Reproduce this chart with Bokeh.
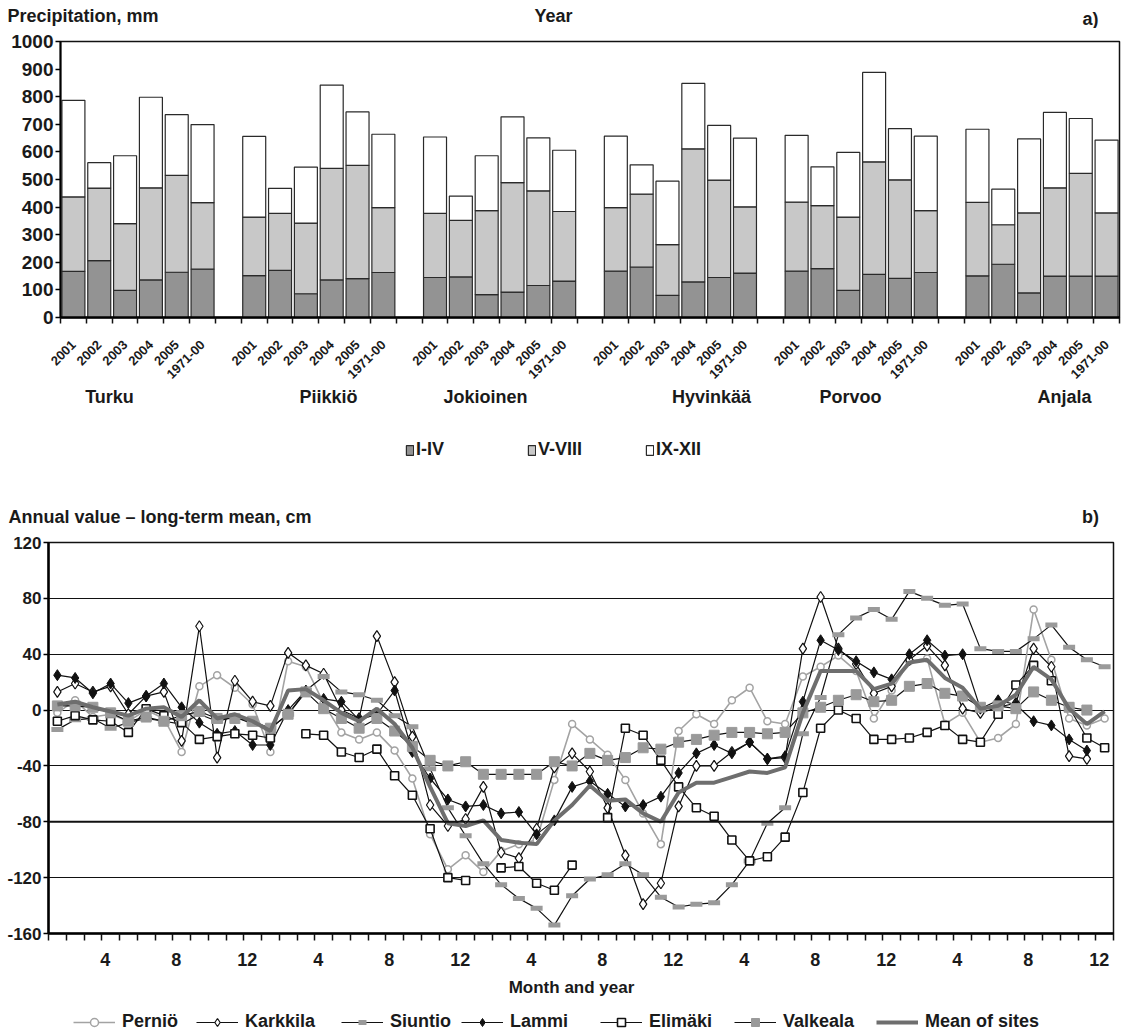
import math
from bokeh.plotting import figure
from bokeh.models import Legend, LegendItem, FixedTicker, Span, Range1d
from bokeh.layouts import column
from bokeh.embed import file_html
from bokeh.resources import INLINE
from bokeh.core.properties import value

nan = float("nan")
FONT = "Liberation Sans"
INK = "#1a1a1a"
BIG = "18px"

# ---------------- data: panel a) precipitation, mm ----------------
stations = ["Turku", "Piikkiö", "Jokioinen", "Hyvinkää", "Porvoo", "Anjala"]
periods = ["2001", "2002", "2003", "2004", "2005", "1971-00"]
# values ordered station by station, periods in the order above
precip_I_IV = [167, 206, 98, 136, 164, 175,
               152, 171, 86, 136, 141, 163,
               145, 147, 83, 92, 116, 132,
               168, 183, 80, 129, 145, 161,
               168, 177, 98, 156, 142, 163,
               151, 193, 89, 150, 150, 150]
precip_V_VIII = [270, 263, 242, 334, 351, 241,
                 212, 206, 256, 404, 410, 235,
                 232, 205, 304, 397, 343, 252,
                 230, 264, 184, 482, 353, 240,
                 250, 228, 266, 408, 357, 224,
                 266, 143, 290, 320, 372, 229]
precip_IX_XII = [350, 92, 246, 328, 220, 283,
                 292, 91, 203, 302, 194, 266,
                 277, 88, 199, 238, 192, 222,
                 259, 106, 230, 237, 198, 249,
                 242, 141, 234, 324, 185, 270,
                 265, 129, 268, 273, 199, 264]
season_labels = ["I-IV", "V-VIII", "IX-XII"]

# ---------------- data: panel b) annual value - long-term mean, cm ----------------
months = list(range(1, 61))
month_tick_labels = ["4", "8", "12"]
pernio = [-2, 7, -5, -3, -8, 0, -6, -30, 17, 25, 16, 4, -30, 35, 31,
          5, -16, -21, -16, -29, -49, -89, -114, -104, -116, -101, -96, -93, -50, -10,
          -21, -32, -50, -74, -96, -15, -3, -10, 7, 16, -8, -10, 24, 31,
          39, 28, -6, 14, 35, 37, -10, -2, -23, -20, -10, 72, 36, -6, -11, -6]
karkkila = [13, 19, 13, 17, -3, 10, 13, -22, 60, -34, 21, 6, 3, 41, 32,
            26, 0, -6, 53, 20, -19, -68, -83, -78, -55, -102, -106, -85, -41, -31,
            -44, -70, -104, -139, -124, -69, -40, -40, -30, -23, -35, -34, 44, 81,
            44, 33, 12, 17, 36, 46, 32, 1, -2, 2, 5, 44, 31, -33, -35, nan]
siuntio = [-14, -7, -6, -13, -9, -6, -8, -10, -3, -8, -5, -10, -13, -3, 14,
           24, 13, 11, 7, -4, -12, -42, -70, -90, -110, -125, -135, -142, -154, -133,
           -121, -118, -110, -118, -134, -141, -139, -138, -125, -108, -81, -70, -17, 9,
           54, 66, 72, 65, 85, 80, 75, 76, 44, 42, 42, 51, 61, 45, 36, 31]
lammi = [25, 23, 12, 19, 5, 10, 19, 2, -9, -17, -15, -25, -25, 0, 14,
         8, 6, -7, -3, 14, -30, -49, -64, -69, -68, -74, -73, -89, -79, -55,
         -51, -60, -69, -68, -62, -45, -31, -25, -31, -23, -35, -33, 6, 50,
         43, 35, 27, 22, 40, 50, 39, 40, 1, 7, 4, -8, -11, -21, -29, nan]
elimaki = [-8, -4, -7, -8, -16, 1, -4, -9, -21, -19, -17, -18, -20, nan, -17,
           -18, -30, -34, -28, -47, -61, -85, -120, -122, nan, -113, -112, -124, -129, -111,
           nan, -77, -13, -18, -36, -55, -70, -76, -93, -108, -105, -91, -59, -13,
           0, -6, -21, -21, -20, -16, -11, -21, -23, -3, 18, 32, 21, 2, -20, -27]
valkeala = [3, 3, 2, -2, -8, -5, -8, -4, -1, -6, -6, -8, -13, -3, 13,
            1, -6, -13, -6, -15, -26, -36, -40, -37, -46, -46, -46, -46, -37, -40,
            -31, -36, -34, -27, -28, -23, -21, -18, -16, -16, -17, -16, -2, 2,
            7, 11, 6, 7, 17, 19, 12, 10, 2, 3, 1, 13, 7, 2, 0, nan]
mean_sites = [4, 6, 2, -1, -4, 1, 2, -5, 7, -6, -3, -8, -15, 14, 15,
              7, -2, -8, 1, -10, -27, -55, -81, -83, -79, -93, -95, -96, -79, -68,
              -54, -65, -64, -74, -80, -59, -52, -52, -48, -44, -45, -41, -2, 28,
              28, 28, 15, 19, 34, 36, 23, 16, 1, 3, 11, 31, 22, 1, -10, -1]

W = 1122

# series styles (name -> (line kwargs, marker kwargs or None))
series = [
    ("Perniö", pernio, dict(line_color="#a3a3a3", line_width=1.6),
     dict(marker="circle", size=7, fill_color="white", line_color="#a3a3a3", line_width=1.5)),
    ("Karkkila", karkkila, dict(line_color="#111111", line_width=1.2),
     dict(marker="diamond", size=11, fill_color="white", line_color="#111111", line_width=1.2)),
    ("Siuntio", siuntio, dict(line_color="#111111", line_width=1.2),
     dict(marker="dash", size=12, line_color="#9a9a9a", line_width=5)),
    ("Lammi", lammi, dict(line_color="#111111", line_width=1.2),
     dict(marker="diamond", size=11, fill_color="#111111", line_color="#111111", line_width=1)),
    ("Elimäki", elimaki, dict(line_color="#111111", line_width=1.2),
     dict(marker="square", size=8, fill_color="white", line_color="#111111", line_width=1.6)),
    ("Valkeala", valkeala, dict(line_color="#111111", line_width=1.2),
     dict(marker="square", size=10, fill_color="#9a9a9a", line_color="#9a9a9a", line_width=1)),
    ("Mean of sites", mean_sites, dict(line_color="#6e6e6e", line_width=4), None),
]
bar_styles = [dict(fill_color="#939393"), dict(fill_color="#c8c8c8"), dict(fill_color="#ffffff")]


def bold_axis(ax, size):
    ax.major_label_text_font = FONT
    ax.major_label_text_font_style = "bold"
    ax.major_label_text_font_size = size
    ax.major_label_text_color = INK


def text_fig(h):
    f = figure(width=W, height=h, x_range=Range1d(0, W), y_range=Range1d(h, 0),
               output_backend="svg", toolbar_location=None, tools="", title=None,
               min_border=0, min_border_left=0, min_border_right=0,
               min_border_top=0, min_border_bottom=0,
               x_axis_type=None, y_axis_type=None, frame_align=False)
    f.outline_line_color = None
    return f


def put_text(f, xs, ys, texts, size, align):
    f.text(x=xs, y=ys, text=texts, text_font=value(FONT), text_font_style="bold",
           text_font_size=size, text_align=align, text_baseline="middle", text_color=INK)


def one_legend(f, label, renderers, vx, vy, gw, gh, standoff):
    lg = Legend(items=[LegendItem(label=label, renderers=renderers)], location=(vx, vy),
                orientation="horizontal", padding=0, margin=0, spacing=0,
                border_line_color=None, background_fill_alpha=0,
                glyph_width=gw, glyph_height=gh, label_standoff=standoff, label_height=gh,
                label_text_font=FONT, label_text_font_style="bold",
                label_text_font_size=BIG, label_text_color=INK)
    f.add_layout(lg, "center")


# ================= header a) =================
h1 = text_fig(28)
put_text(h1, [7], [15], ["Precipitation, mm"], BIG, "left")
put_text(h1, [553], [15], ["Year"], BIG, "center")
put_text(h1, [1090], [18], ["a)"], BIG, "center")

# ================= panel a) =================
p1 = figure(width=W, height=357, x_range=Range1d(0, 41), y_range=Range1d(0, 1000),
            output_backend="svg", toolbar_location=None, tools="", title=None,
            min_border_left=60, min_border_right=3, min_border_top=13, min_border_bottom=62,
            frame_align=False)

x_centers = [g * 7 + j + 0.5 for g in range(len(stations)) for j in range(len(periods))]
x_labels = [per for _ in stations for per in periods]
top1 = list(precip_I_IV)
top2 = [a + b for a, b in zip(top1, precip_V_VIII)]
top3 = [a + b for a, b in zip(top2, precip_IX_XII)]

bw = 0.89
for bot, top, st in [(0, top1, bar_styles[0]), (top1, top2, bar_styles[1]), (top2, top3, bar_styles[2])]:
    p1.vbar(x=x_centers, bottom=bot, top=top, width=bw, line_color="#2a2a2a",
            line_width=1.2, **st)

overrides = {}
for xc, lab in zip(x_centers, x_labels):
    overrides[xc] = lab
    overrides[str(xc)] = lab
p1.xaxis.ticker = FixedTicker(ticks=x_centers, minor_ticks=list(range(0, 42)))
p1.xaxis.major_label_overrides = overrides
p1.xaxis.major_label_orientation = math.pi / 4
p1.xaxis.major_tick_out = 0
p1.xaxis.major_tick_in = 0
p1.xaxis.minor_tick_out = 6
p1.xaxis.minor_tick_in = 0
p1.xaxis.minor_tick_line_color = "#111111"
p1.xaxis.minor_tick_line_width = 1.5
p1.xaxis.major_label_standoff = 19
p1.xaxis.axis_line_width = 2.5
bold_axis(p1.xaxis, "13px")

p1.yaxis.ticker = FixedTicker(ticks=list(range(0, 1001, 100)))
p1.yaxis.major_tick_out = 5
p1.yaxis.major_tick_in = 0
p1.yaxis.major_tick_line_width = 1.5
p1.yaxis.minor_tick_line_color = None
p1.yaxis.axis_line_width = 2
p1.yaxis.major_label_standoff = 2
bold_axis(p1.yaxis, "19px")

p1.xgrid.visible = False
p1.ygrid.visible = False
p1.outline_line_color = "#111111"
p1.outline_line_width = 1.5

# ================= footer a): station names + legend =================
f1 = text_fig(97)
put_text(f1, [109, 328, 485, 711, 850, 1064], [11] * 6, stations, BIG, "center")
leg_bars = [f1.vbar(x=[nan], bottom=[nan], top=[nan], width=1, line_color="#2a2a2a",
                    line_width=1.2, **st) for st in bar_styles]
for lab, r, vx in zip(season_labels, leg_bars, [405, 527, 645]):
    one_legend(f1, lab, [r], vx, 22, 9, 12, 2)

# ================= header b) =================
h2 = text_fig(48)
put_text(h2, [8], [34], ["Annual value – long-term mean, cm"], BIG, "left")
put_text(h2, [1090], [34], ["b)"], BIG, "center")

# ================= panel b) =================
p2 = figure(width=W, height=440, x_range=Range1d(0.5, 60.5), y_range=Range1d(-160, 120),
            output_backend="svg", toolbar_location=None, tools="", title=None,
            min_border_left=48, min_border_right=9, min_border_top=12, min_border_bottom=37,
            frame_align=False)

p2.ygrid.ticker = FixedTicker(ticks=list(range(-160, 121, 40)))
p2.ygrid.grid_line_color = "#111111"
p2.ygrid.grid_line_width = 1
p2.xgrid.visible = False
p2.add_layout(Span(location=-80, dimension="width", line_color="#111111", line_width=2))

for name, vals, lkw, mkw in series:
    p2.line(months, vals, **lkw)
    if mkw is not None:
        p2.scatter(months, vals, **mkw)

label_months = [m for m in months if m % 4 == 0]
label_pos = [round(m - 0.3, 2) for m in label_months]
ov2 = {}
for m, lp in zip(label_months, label_pos):
    lab = month_tick_labels[((m - 1) % 12) // 4]
    ov2[lp] = lab
    ov2[str(lp)] = lab
p2.xaxis.ticker = FixedTicker(ticks=label_pos, minor_ticks=[i + 0.5 for i in range(0, 61)])
p2.xaxis.major_label_overrides = ov2
p2.xaxis.major_tick_out = 0
p2.xaxis.major_tick_in = 0
p2.xaxis.minor_tick_out = 7
p2.xaxis.minor_tick_in = 0
p2.xaxis.minor_tick_line_color = "#111111"
p2.xaxis.minor_tick_line_width = 1.5
p2.xaxis.major_label_standoff = 12
p2.xaxis.axis_line_width = 2.5
bold_axis(p2.xaxis, BIG)

y2_ticks = list(range(-160, 121, 40))
ov_y = {}
for t in y2_ticks:
    ov_y[t] = str(t)
    ov_y[str(t)] = str(t)
p2.yaxis.ticker = FixedTicker(ticks=y2_ticks)
p2.yaxis.major_label_overrides = ov_y
p2.yaxis.major_tick_out = 5
p2.yaxis.major_tick_in = 0
p2.yaxis.major_tick_line_width = 1.5
p2.yaxis.minor_tick_line_color = None
p2.yaxis.axis_line_width = 2.5
p2.yaxis.major_label_standoff = 2
bold_axis(p2.yaxis, "17px")

p2.outline_line_color = "#111111"
p2.outline_line_width = 1.5

# ================= footer b): axis title + legend =================
f2 = text_fig(63)
put_text(f2, [571], [17], ["Month and year"], "17px", "center")
leg_x = [73, 196, 341, 461, 600, 734, 876]
for (name, vals, lkw, mkw), vx in zip(series, leg_x):
    rr = [f2.line(x=[nan], y=[nan], **lkw)]
    if mkw is not None:
        rr.append(f2.scatter(x=[nan], y=[nan], **mkw))
    one_legend(f2, name, rr, vx, 1, 42, 20, 7)

layout = column(h1, p1, f1, h2, p2, f2, spacing=0)
open("out.html", "w").write(file_html(layout, INLINE))
